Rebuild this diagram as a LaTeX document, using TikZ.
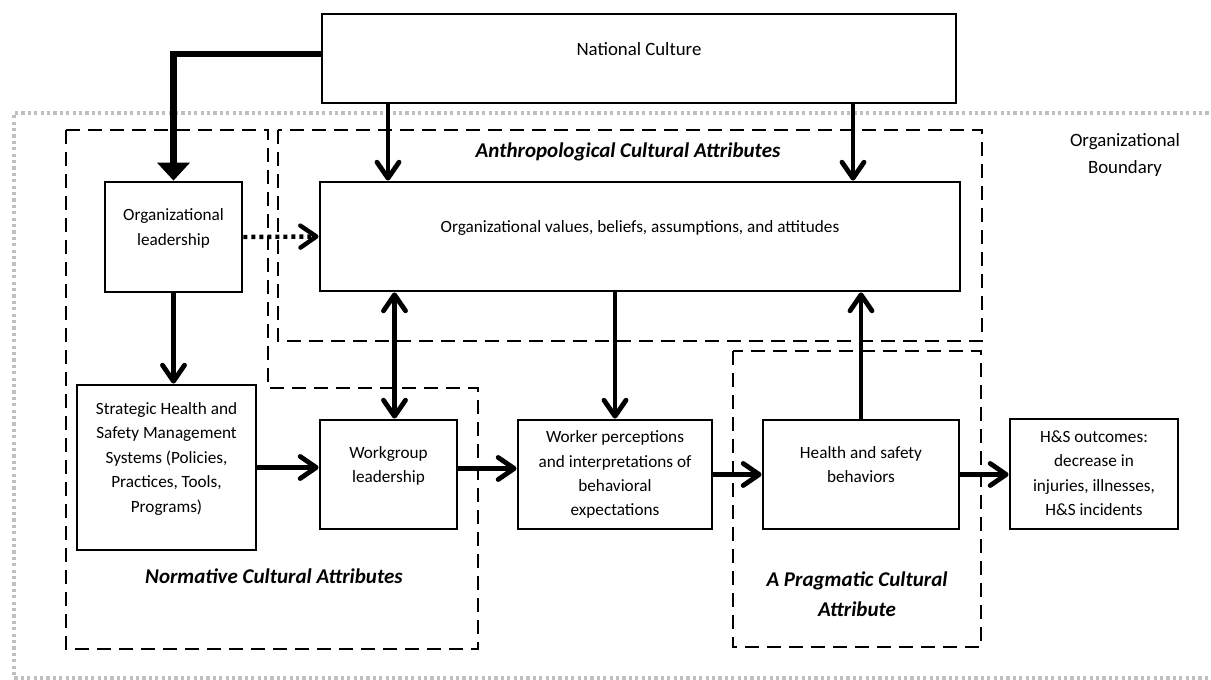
\documentclass[tikz,border=0pt]{standalone}
\usepackage{fontspec}
\setmainfont{Carlito}
\usetikzlibrary{arrows.meta}
\newcommand\lines[1]{\begin{tabular}[b]{@{}c@{}}#1\end{tabular}}
\tikzset{
    box/.style={draw, line width=1.4pt, fill=white, inner sep=0pt, font=\fontsize{8.6pt}{12.2pt}\selectfont},
    lift/.style={text depth=12.7pt},
    region/.style={line width=1.4pt, dash pattern=on 7pt off 4pt},
    bound/.style={line width=1.6pt, draw=black!25, dash pattern=on 1.6pt off 1.6pt},
    conn/.style={line width=2.4pt, -{Straight Barb[length=8pt, width=11pt, round]}},
    both/.style={line width=2.4pt, {Straight Barb[length=8pt, width=11pt, round]}-{Straight Barb[length=8pt, width=11pt, round]}},
    dots/.style={line width=2.2pt, dash pattern=on 2pt off 2pt, -{Straight Barb[length=8pt, width=11pt, round]}},
    heavy/.style={line width=3.2pt, -{Triangle[length=9pt, width=16pt]}},
    attr/.style={font=\fontsize{10.5pt}{15pt}\selectfont\bfseries\itshape, align=center}
}
\begin{document}
\begin{tikzpicture}
  [
    x                 = 0.5pt,
    y                 = -0.5pt,
    line join         = miter,
  ]
  \useasboundingbox (0,0) rectangle (1211,680);
  \draw[bound] (1215,113) -- (14,113) -- (14,678) -- (1215,678);
  \draw[region] (66,130) -- (268,130) -- (268,388) -- (478,388) -- (478,649) -- (66,649) -- cycle;
  \draw[region] (278,130) rectangle (982,341);
  \draw[region] (733,351) rectangle (981,647);

  \node[box, lift, minimum width=317pt, minimum height=44.5pt, font=\fontsize{9.4pt}{13.3pt}\selectfont] (natcult) at (639,58.5) {\lines{National Culture}};
  \node[box, lift, minimum width=68.5pt, minimum height=55pt] (orglead) at (173.5,237) {\lines{Organizational\\leadership}};
  \node[box, lift, minimum width=320pt, minimum height=54.5pt] (orgvals) at (640,236.5) {\lines{Organizational values, beliefs, assumptions, and attitudes}};
  \node[box, lift, minimum width=89.5pt, minimum height=82.5pt] (strategic) at (166.5,467.5) {\lines{Strategic Health and\\Safety Management\\Systems (Policies,\\Practices, Tools,\\Programs)}};
  \node[box, lift, minimum width=68.5pt, minimum height=54.5pt] (workgroup) at (388.5,474.5) {\lines{Workgroup\\leadership}};
  \node[box, minimum width=97pt, minimum height=54.5pt] (worker) at (615,474.5) {\lines{Worker perceptions\\and interpretations of\\behavioral\\expectations}};
  \node[box, lift, minimum width=98pt, minimum height=54.5pt] (hsb) at (861,474.5) {\lines{Health and safety\\behaviors}};
  \node[box, minimum width=84pt, minimum height=55pt] (outcomes) at (1094,474) {\lines{H\&S outcomes:\\decrease in\\injuries, illnesses,\\H\&S incidents}};

  \draw[heavy] (natcult.west |- 0,54) -| (orglead.north);
  \draw[conn] (388,0 |- natcult.south) -- (388,0 |- orgvals.north);
  \draw[conn] (853,0 |- natcult.south) -- (853,0 |- orgvals.north);
  \draw[dots] (orglead.east) -- (orgvals.west);
  \draw[conn] (orglead.south) -- (orglead.south |- strategic.north);
  \draw[both] ([xshift=3pt]workgroup.north) -- ([xshift=3pt]workgroup.north |- orgvals.south);
  \draw[conn] (worker.north |- orgvals.south) -- (worker.north);
  \draw[conn] (hsb.north) -- (hsb.north |- orgvals.south);
  \draw[conn] (strategic.east) -- (strategic.east -| workgroup.west);
  \draw[conn] ([yshift=3pt]workgroup.east) -- ([yshift=3pt]worker.west);
  \draw[conn] (worker.east) -- (hsb.west);
  \draw[conn] (hsb.east) -- (hsb.east -| outcomes.west);

  \node[attr] (anthro) at (628,152) {Anthropological Cultural Attributes};
  \node[attr] (normative) at (274,576) {Normative Cultural Attributes};
  \node[attr] (pragmatic) at (857,594) {A Pragmatic Cultural\\Attribute};
  \node[font=\fontsize{9.4pt}{13.5pt}\selectfont, align=center] (orgbound) at (1125,155) {Organizational\\Boundary};
\end{tikzpicture}
\end{document}
